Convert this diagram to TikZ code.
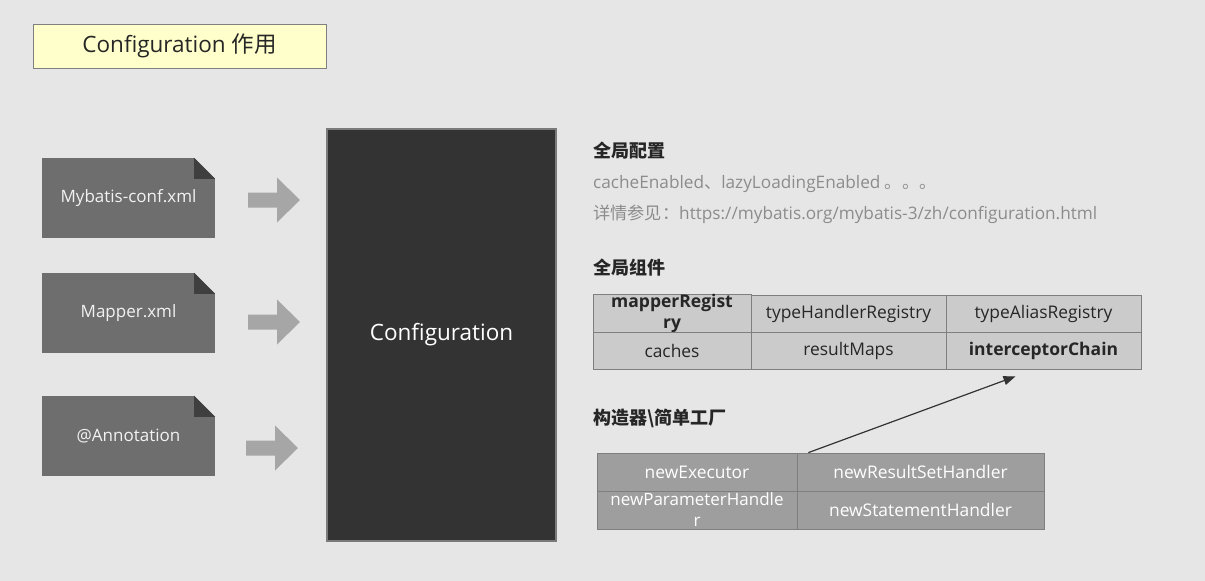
\documentclass[tikz,border=0pt]{standalone}
\usepackage{fontspec}
\setmainfont{Open Sans}
\newfontfamily\cjk{Noto Sans CJK SC}
\usetikzlibrary{arrows.meta}

\definecolor{bg}{HTML}{E6E6E6}
\definecolor{titlefill}{HTML}{FFFFCC}
\definecolor{titleedge}{HTML}{808080}
\definecolor{docgray}{HTML}{6E6E6E}
\definecolor{docfold}{HTML}{3F3F3F}
\definecolor{arrowgray}{HTML}{A6A6A6}
\definecolor{cfgfill}{HTML}{333333}
\definecolor{cfgedge}{HTML}{7A7A7A}
\definecolor{celllight}{HTML}{CBCBCB}
\definecolor{celldark}{HTML}{9E9E9E}
\definecolor{celledge}{HTML}{7F7F7F}
\definecolor{note}{HTML}{8C8C8C}
\definecolor{ink}{HTML}{262626}
\definecolor{linkink}{HTML}{333333}

\tikzset{
  titlebox/.style={draw=titleedge, fill=titlefill, line width=1pt, inner sep=0pt,
    minimum width=293pt, minimum height=44pt, text=ink,
    font=\fontsize{22.5}{26}\selectfont},
  docbox/.style={fill=docgray, inner sep=0pt, minimum width=173pt, minimum height=80pt,
    text=white!95!black, font=\fontsize{17}{20}\selectfont},
  cfgbox/.style={draw=cfgedge, fill=cfgfill, line width=2pt, inner sep=0pt,
    minimum width=229pt, minimum height=412pt, text=white,
    font=\fontsize{22.5}{27}\selectfont},
  heading/.style={anchor=west, inner sep=0pt, text=ink,
    font=\fontsize{18}{21}\selectfont\cjk\bfseries},
  notetext/.style={anchor=west, inner sep=0pt, text=note,
    font=\fontsize{17.2}{20}\selectfont},
  cell/.style={draw=celledge, line width=0.8pt, inner sep=0pt, align=center,
    font=\fontsize{17.4}{20}\selectfont},
  boldcell/.style={font=\fontsize{17.5}{20.5}\selectfont\bfseries},
  lightcell/.style={cell, fill=celllight, text=ink, minimum height=37pt},
  darkcell/.style={cell, fill=celldark, text=white, minimum height=38pt},
  link/.style={draw=linkink, line width=1.2pt, -{Triangle[length=12pt,width=9pt]}},
}

\begin{document}
\begin{tikzpicture}[x=1pt,y=-1pt]
  \fill[bg] (0,0) rectangle (1205,581);
  \useasboundingbox (0,0) rectangle (1205,581);

  % title
  \node[titlebox] (title) at (179.5,46) {Configuration {\cjk 作用}};

  % source documents with folded corner
  \node[docbox] (d1) at (128.5,198) {Mybatis-conf.xml};
  \node[docbox] (d2) at (128.5,313) {Mapper.xml};
  \node[docbox] (d3) at (128.5,436) {@Annotation};
  \foreach \d in {d1,d2,d3}{
    \fill[bg] ([xshift=-21pt]\d.north east) -- (\d.north east)
      -- ([yshift=-21pt]\d.north east) -- cycle;
    \fill[docfold] ([xshift=-21pt]\d.north east) -- ([yshift=-21pt]\d.north east)
      -- ([xshift=-21pt,yshift=-21pt]\d.north east) -- cycle;
  }

  % block arrows into the configuration
  \foreach \tx/\cy in {300/200, 300/322, 298/448}{
    \fill[arrowgray] (\tx-52,\cy-7.5) -- (\tx-23,\cy-7.5) -- (\tx-23,\cy-22.5)
      -- (\tx,\cy) -- (\tx-23,\cy+22.5) -- (\tx-23,\cy+7.5) -- (\tx-52,\cy+7.5) -- cycle;
  }

  % central configuration object
  \node[cfgbox] (cfg) at (441.5,335) {Configuration};

  % global settings
  \node[heading] (h1) at (593,151) {全局配置};
  \node[notetext] (n1) at (593,184) {cacheEnabled{\cjk 、}lazyLoadingEnabled {\cjk 。。。}};
  \node[notetext] (n2) at (593,214) {{\cjk 详情参见：}https://mybatis.org/mybatis-3/zh/configuration.html};

  % global components
  \node[heading] (h2) at (593,268) {全局组件};
  \node[lightcell, boldcell, minimum width=158pt] (mr) at (672,313.5) {mapperRegist\\ry};
  \node[lightcell, minimum width=195pt] (thr) at (848.5,313.5) {typeHandlerRegistry};
  \node[lightcell, minimum width=195pt] (tar) at (1043.5,313.5) {typeAliasRegistry};
  \node[lightcell, minimum width=158pt] (ca) at (672,350.5) {caches};
  \node[lightcell, minimum width=195pt] (rm) at (848.5,350.5) {resultMaps};
  \node[lightcell, boldcell, minimum width=195pt] (ic) at (1043.5,350.5) {interceptorChain};

  % factory methods
  \node[heading] (h3) at (593,418) {构造器\textbackslash 简单工厂};
  \node[darkcell, minimum width=200pt] (ne) at (697,472) {newExecutor};
  \node[darkcell, minimum width=247pt] (nrs) at (920.5,472) {newResultSetHandler};
  \node[darkcell, minimum width=200pt, font=\fontsize{17}{21}\selectfont] (npH) at (697,510) {newParameterHandle\\r};
  \node[darkcell, minimum width=247pt] (nsh) at (920.5,510) {newStatementHandler};

  \draw[link] ([xshift=11pt]ne.north east) -- ([xshift=-28pt,yshift=-7pt]ic.south);
\end{tikzpicture}
\end{document}
